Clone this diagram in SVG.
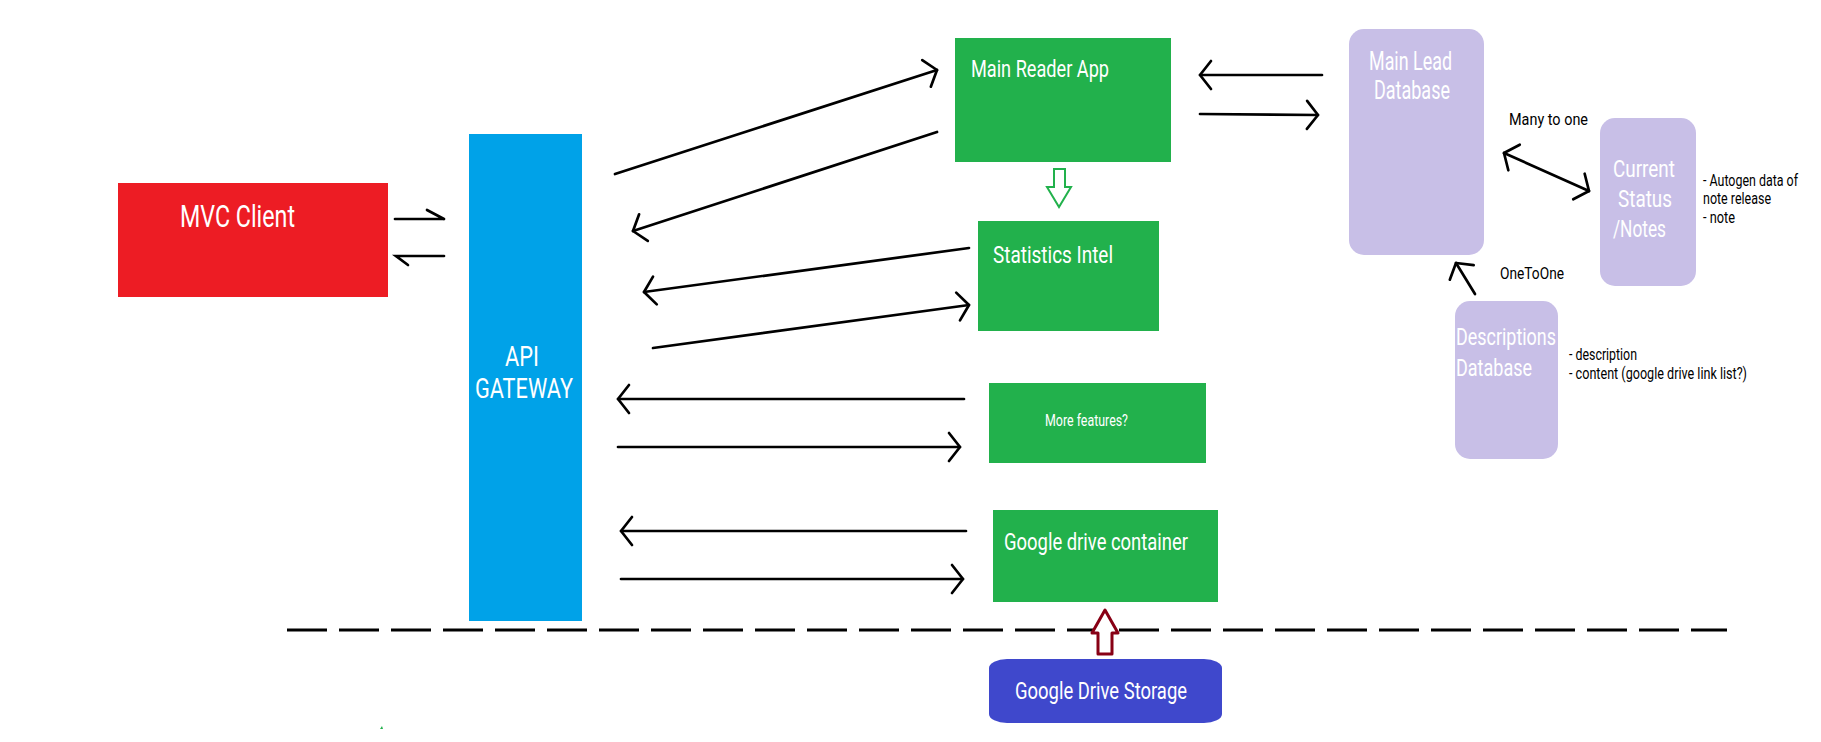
<svg xmlns="http://www.w3.org/2000/svg" width="1821" height="742" viewBox="0 0 1821 742">
<style>
  text { font-family: Roboto, "Liberation Sans", sans-serif; }
  .w { fill: #ffffff; }
  .k { fill: #000000; }
  .conn { fill: none; stroke: #000; stroke-width: 2.7; stroke-linecap: round; }
  .arr { marker-end: url(#ah); }
  .green { fill: #22B14C; }
  .lav { fill: #C8BFE7; }
</style>
<defs>
  <marker id="ah" markerUnits="userSpaceOnUse" markerWidth="30" markerHeight="40" refX="0" refY="0" orient="auto-start-reverse" overflow="visible">
    <path d="M-11,-14 L0,0 L-11,14" fill="none" stroke="#000" stroke-width="2.7" stroke-linecap="round" stroke-linejoin="round"/>
  </marker>
</defs>
<rect width="1821" height="742" fill="#ffffff"/>

<g id="mvc-client">
  <rect x="118" y="183" width="270" height="114" fill="#ED1C24"/>
  <text class="w" x="180" y="227" font-size="32" textLength="115" lengthAdjust="spacingAndGlyphs">MVC Client</text>
</g>

<g id="api-gateway">
  <rect x="469" y="134" width="113" height="487" fill="#00A2E8"/>
  <text class="w" x="505" y="366" font-size="28" textLength="34" lengthAdjust="spacingAndGlyphs">API</text>
  <text class="w" x="475" y="398" font-size="28" textLength="98" lengthAdjust="spacingAndGlyphs">GATEWAY</text>
</g>

<g id="main-reader-app">
  <rect class="green" x="955" y="38" width="216" height="124"/>
  <text class="w" x="971" y="77" font-size="24" textLength="138" lengthAdjust="spacingAndGlyphs">Main Reader App</text>
</g>

<g id="statistics-intel">
  <rect class="green" x="978" y="221" width="181" height="110"/>
  <text class="w" x="993" y="263" font-size="24" textLength="120" lengthAdjust="spacingAndGlyphs">Statistics Intel</text>
</g>

<g id="more-features">
  <rect class="green" x="989" y="383" width="217" height="80"/>
  <text class="w" x="1045" y="426" font-size="17" textLength="83" lengthAdjust="spacingAndGlyphs">More features?</text>
</g>

<g id="google-drive-container">
  <rect class="green" x="993" y="510" width="225" height="92"/>
  <text class="w" x="1004" y="550" font-size="24" textLength="184" lengthAdjust="spacingAndGlyphs">Google drive container</text>
</g>

<g id="google-drive-storage">
  <rect x="989" y="659" width="233" height="64" rx="18" ry="9" fill="#3F48CC"/>
  <text class="w" x="1015" y="699" font-size="24" textLength="172" lengthAdjust="spacingAndGlyphs">Google Drive Storage</text>
</g>

<g id="main-lead-database">
  <rect class="lav" x="1349" y="29" width="135" height="226" rx="15"/>
  <text class="w" x="1369" y="70" font-size="25" textLength="83" lengthAdjust="spacingAndGlyphs">Main Lead</text>
  <text class="w" x="1374" y="99" font-size="25" textLength="76" lengthAdjust="spacingAndGlyphs">Database</text>
</g>

<g id="current-status-notes">
  <rect class="lav" x="1600" y="118" width="96" height="168" rx="15"/>
  <text class="w" x="1613" y="177" font-size="24" textLength="62" lengthAdjust="spacingAndGlyphs">Current</text>
  <text class="w" x="1618" y="207" font-size="24" textLength="54" lengthAdjust="spacingAndGlyphs">Status</text>
  <text class="w" x="1613" y="237" font-size="24" textLength="53" lengthAdjust="spacingAndGlyphs">/Notes</text>
  <text class="k" x="1703" y="186" font-size="16" textLength="95" lengthAdjust="spacingAndGlyphs">- Autogen data of</text>
  <text class="k" x="1703" y="204" font-size="16" textLength="68" lengthAdjust="spacingAndGlyphs">note release</text>
  <text class="k" x="1703" y="223" font-size="16" textLength="32" lengthAdjust="spacingAndGlyphs">- note</text>
</g>

<g id="descriptions-database">
  <rect class="lav" x="1455" y="301" width="103" height="158" rx="15"/>
  <text class="w" x="1456" y="345" font-size="24" textLength="100" lengthAdjust="spacingAndGlyphs">Descriptions</text>
  <text class="w" x="1456" y="376" font-size="24" textLength="76" lengthAdjust="spacingAndGlyphs">Database</text>
  <text class="k" x="1569" y="360" font-size="16" textLength="68" lengthAdjust="spacingAndGlyphs">- description</text>
  <text class="k" x="1569" y="379" font-size="16" textLength="178" lengthAdjust="spacingAndGlyphs">- content (google drive link list?)</text>
</g>

<g id="boundary">
  <line x1="287" y1="630" x2="1727" y2="630" stroke="#000" stroke-width="3" stroke-dasharray="40 12"/>
</g>

<g id="connectors">
  <path class="conn" d="M395,219 L444,219 M427,210 L444,219"/>
  <path class="conn" d="M444,256 L396,256 L408,265"/>
  <path class="conn arr" d="M615,174 L937,70"/>
  <path class="conn arr" d="M937,132 L633,231"/>
  <path class="conn arr" d="M969,248 L644,292"/>
  <path class="conn arr" d="M653,348 L969,305"/>
  <path class="conn arr" d="M964,399 L618,399"/>
  <path class="conn arr" d="M618,447 L960,447"/>
  <path class="conn arr" d="M966,531 L621,531"/>
  <path class="conn arr" d="M621,579 L963,579"/>
  <path class="conn arr" d="M1322,75 L1200,75"/>
  <path class="conn arr" d="M1200,114 L1318,115"/>
  <path class="conn arr" d="M1504,153 L1589,191" marker-start="url(#ah)"/>
  <path class="conn arr" d="M1475,294 L1456,263"/>
  <polygon points="1054,169 1065,169 1065,187 1071,187 1059,207 1047,187 1054,187" fill="#ffffff" stroke="#22B14C" stroke-width="2"/>
  <polygon points="1105,610 1118,633 1112,633 1112,654 1098,654 1098,633 1092,633" fill="#ffffff" stroke="#880015" stroke-width="3" stroke-linejoin="round"/>
  <text class="k" x="1509" y="125" font-size="17" textLength="79" lengthAdjust="spacingAndGlyphs">Many to one</text>
  <text class="k" x="1500" y="279" font-size="17" textLength="64" lengthAdjust="spacingAndGlyphs">OneToOne</text>
</g>

<path d="M380,729 L382,726 L383,729 Z" fill="#22B14C"/>
</svg>
